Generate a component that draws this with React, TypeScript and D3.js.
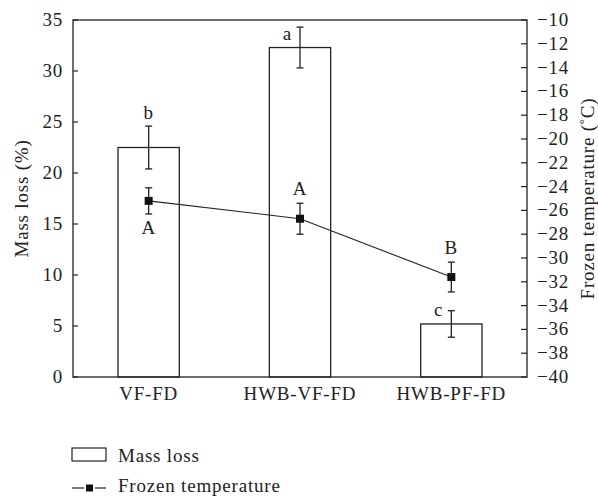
import React from 'react';
import * as d3 from 'd3';

const categories = ['VF-FD', 'HWB-VF-FD', 'HWB-PF-FD'];
const massLoss = [22.5, 32.3, 5.2];
const massLossErr = [2.1, 2.0, 1.3];
const massLossLetters = ['b', 'a', 'c'];
const frozenTemp = [-25.2, -26.7, -31.6];
const frozenTempErr = [1.1, 1.3, 1.25];
const tempLetters = ['A', 'A', 'B'];
const leftTicks = [0, 5, 10, 15, 20, 25, 30, 35];
const rightTicks = d3.range(-40, -9, 2);

const W = 598;
const H = 497;
const margin = { top: 20, right: 71, bottom: 120, left: 73 };
const FONT = '"Liberation Serif", "DejaVu Serif", serif';
const INK = '#222';
const FS = 19;
const LS = 0.8;

export default function App() {
  const x0 = margin.left;
  const x1 = W - margin.right;
  const y0 = H - margin.bottom;
  const y1 = margin.top;

  const x = d3.scaleBand<string>().domain(categories).range([x0, x1]).padding(0);
  const yL = d3.scaleLinear().domain([0, 35]).range([y0, y1]);
  const yR = d3.scaleLinear().domain([-40, -10]).range([y0, y1]);
  const barW = x.bandwidth() * 0.405;
  const cx = (c: string) => (x(c) as number) + x.bandwidth() / 2;
  const cap = 3.5;

  const line = d3
    .line<number>()
    .x((_, i) => cx(categories[i]))
    .y((d) => yR(d));

  // b sits above its error bar; a and c sit left of it, near the bar top
  const letterPos = (i: number) => {
    const c = categories[i];
    if (i === 0) return { x: cx(c), y: yL(massLoss[i] + massLossErr[i]) - 7, anchor: 'middle' };
    return { x: cx(c) - 8, y: yL(massLoss[i]) - 8, anchor: 'end' };
  };

  const txt = { fontSize: FS, fill: INK, letterSpacing: LS } as const;

  return (
    <svg width={W} height={H} style={{ position: 'absolute', left: 0, top: 0, background: '#fff' }} fontFamily={FONT}>
      <rect x={0} y={0} width={W} height={H} fill="#fff" />
      {/* bars */}
      {categories.map((c, i) => (
        <rect
          key={c}
          x={cx(c) - barW / 2}
          y={yL(massLoss[i])}
          width={barW}
          height={y0 - yL(massLoss[i])}
          fill="#fff"
          stroke={INK}
          strokeWidth={1.3}
        />
      ))}
      {/* bar error bars */}
      {categories.map((c, i) => {
        const t = yL(massLoss[i] + massLossErr[i]);
        const b = yL(massLoss[i] - massLossErr[i]);
        return (
          <g key={'e' + c} stroke={INK} strokeWidth={1.3}>
            <line x1={cx(c)} x2={cx(c)} y1={t} y2={b} />
            <line x1={cx(c) - cap} x2={cx(c) + cap} y1={t} y2={t} />
            <line x1={cx(c) - cap} x2={cx(c) + cap} y1={b} y2={b} />
          </g>
        );
      })}
      {/* temperature line */}
      <path d={line(frozenTemp) || ''} fill="none" stroke={INK} strokeWidth={1.1} />
      {categories.map((c, i) => {
        const t = yR(frozenTemp[i] + frozenTempErr[i]);
        const b = yR(frozenTemp[i] - frozenTempErr[i]);
        return (
          <g key={'t' + c}>
            <g stroke={INK} strokeWidth={1.3}>
              <line x1={cx(c)} x2={cx(c)} y1={t} y2={b} />
              <line x1={cx(c) - cap} x2={cx(c) + cap} y1={t} y2={t} />
              <line x1={cx(c) - cap} x2={cx(c) + cap} y1={b} y2={b} />
            </g>
            <rect x={cx(c) - 4} y={yR(frozenTemp[i]) - 4} width={8} height={8} fill="#111" />
          </g>
        );
      })}
      {/* letters */}
      {massLossLetters.map((l, i) => {
        const p = letterPos(i);
        return (
          <text key={'ml' + i} x={p.x} y={p.y} textAnchor={p.anchor as any} {...txt}>
            {l}
          </text>
        );
      })}
      {tempLetters.map((l, i) => {
        const c = categories[i];
        const yy =
          i === 0
            ? yR(frozenTemp[i] - frozenTempErr[i]) + 20
            : yR(frozenTemp[i] + frozenTempErr[i]) - 8;
        return (
          <text key={'tl' + i} x={cx(c)} y={yy} textAnchor="middle" {...txt}>
            {l}
          </text>
        );
      })}
      {/* frame */}
      <rect x={x0} y={y1} width={x1 - x0} height={y0 - y1} fill="none" stroke={INK} strokeWidth={1.3} />
      {/* left ticks */}
      {leftTicks.map((t) => (
        <g key={'lt' + t}>
          <line x1={x0} x2={x0 + 5} y1={yL(t)} y2={yL(t)} stroke={INK} strokeWidth={1.2} />
          <text x={x0 - 10} y={yL(t) + 6} textAnchor="end" {...txt}>
            {t}
          </text>
        </g>
      ))}
      {/* right ticks */}
      {rightTicks.map((t) => (
        <g key={'rt' + t}>
          <line x1={x1 - 6} x2={x1} y1={yR(t)} y2={yR(t)} stroke={INK} strokeWidth={1.2} />
          <text x={x1 + 10} y={yR(t) + 6} textAnchor="start" {...txt}>
            {'\u2212' + Math.abs(t)}
          </text>
        </g>
      ))}
      {/* x labels */}
      {categories.map((c) => (
        <text key={'xl' + c} x={cx(c)} y={y0 + 23} textAnchor="middle" {...txt}>
          {c}
        </text>
      ))}
      {/* axis titles */}
      <text transform={`translate(28,${(y0 + y1) / 2}) rotate(-90)`} textAnchor="middle" {...txt}>
        Mass loss (%)
      </text>
      <text transform={`translate(594,${(y0 + y1) / 2}) rotate(-90)`} textAnchor="middle" {...txt}>
        Frozen temperature (
        <tspan dy={-6} fontSize={13}>°</tspan>
        <tspan dy={6}>C)</tspan>
      </text>
      {/* legend */}
      <rect x={72} y={448} width={34} height={13} fill="#fff" stroke={INK} strokeWidth={1.2} />
      <text x={118} y={462} {...txt}>
        Mass loss
      </text>
      <line x1={72} x2={84} y1={488} y2={488} stroke={INK} strokeWidth={1.2} />
      <line x1={95} x2={106} y1={488} y2={488} stroke={INK} strokeWidth={1.2} />
      <rect x={86} y={484.5} width={7} height={7} fill="#111" />
      <text x={118} y={492} {...txt}>
        Frozen temperature
      </text>
    </svg>
  );
}
